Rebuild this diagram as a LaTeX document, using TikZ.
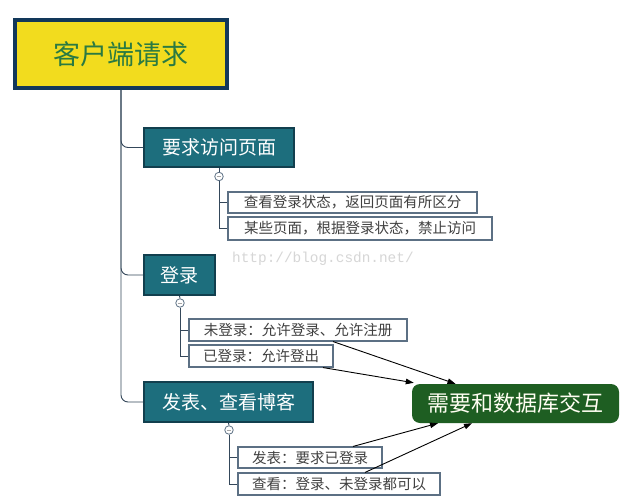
\documentclass[tikz,border=0pt]{standalone}
\usepackage{fontspec}
\newfontfamily\cjk{Noto Sans CJK SC}
\newfontfamily\wmfont{Liberation Mono}
\usetikzlibrary{arrows.meta,calc}
\definecolor{navy}{HTML}{12385A}
\definecolor{yel}{HTML}{F2DC1E}
\definecolor{rootgreen}{HTML}{2A7A42}
\definecolor{tealfill}{HTML}{1D6E7D}
\definecolor{tealedge}{HTML}{123F4E}
\definecolor{dbgreen}{HTML}{1E5E22}
\definecolor{childedge}{HTML}{5C7084}
\definecolor{linec}{HTML}{34475A}
\tikzset{
  rootbox/.style={draw=navy,line width=4pt,fill=yel,text=rootgreen,minimum width=212pt,minimum height=68pt,inner sep=0pt,font=\cjk\fontsize{27}{30}\selectfont},
  mainbox/.style={draw=tealedge,line width=2pt,fill=tealfill,text=white,minimum height=39pt,inner sep=0pt,font=\cjk\fontsize{19}{22}\selectfont},
  dbbox/.style={fill=dbgreen,rounded corners=8pt,text=white!95!yellow,minimum width=207pt,minimum height=39pt,inner sep=0pt,font=\cjk\fontsize{22}{25}\selectfont},
  childbox/.style={draw=childedge,line width=1.1pt,fill=white,text=black!75,minimum height=21pt,inner sep=0pt,font=\cjk\fontsize{14.5}{16}\selectfont},
  toggle/.style={circle,draw=childedge,line width=0.8pt,fill=white,minimum size=8.5pt,inner sep=0pt},
  branch/.style={draw=linec,line width=0.9pt,rounded corners=7pt},
  link/.style={draw=black,line width=0.9pt,-{Triangle[length=8pt,width=5.5pt]}}
}
\begin{document}
\begin{tikzpicture}[x=1pt,y=-1pt]
\useasboundingbox (0,0) rectangle (629,500);
\fill[white] (0,0) rectangle (629,500);
% watermark
\node[anchor=base west,inner sep=0pt,text=black!16,font=\wmfont\fontsize{14.4}{16}\selectfont] (wm) at (232,262) {http://blog.csdn.net/};
% main nodes
\node[rootbox] (root) at (121,54) {客户端请求};
\node[mainbox,minimum width=150pt] (req) at (219,147.5) {要求访问页面};
\node[mainbox,minimum width=71pt,minimum height=40pt] (login) at (179.5,275) {登录};
\node[mainbox,minimum width=169pt,minimum height=40pt] (post) at (228.5,402) {发表、查看博客};
\node[dbbox] (db) at (515.5,403.5) {需要和数据库交互};
% toggles
\node[toggle] (c1) at (219,176.5) {};
\node[toggle] (c2) at (180,303) {};
\node[toggle] (c3) at (229,430) {};
\foreach \c in {c1,c2,c3} \draw[black!35,line width=0.6pt] ([xshift=-2.2pt]\c.center) -- ([xshift=2.2pt]\c.center);
% children
\node[childbox,minimum width=249pt] (a1) at (352.5,202.5) {查看登录状态，返回页面有所区分};
\node[childbox,minimum width=264pt,minimum height=23pt] (a2) at (360,228.5) {某些页面，根据登录状态，禁止访问};
\node[childbox,minimum width=218pt,minimum height=22pt] (b1) at (298,330) {未登录：允许登录、允许注册};
\node[childbox,minimum width=144pt,minimum height=22pt] (b2) at (261,356) {已登录：允许登出};
\node[childbox,minimum width=144pt] (p1) at (310,457.5) {发表：要求已登录};
\node[childbox,minimum width=202pt,minimum height=22pt] (p2) at (339,484) {查看：登录、未登录都可以};
% trunk branches
\draw[branch] (root.south) |- (req.west);
\draw[branch] (root.south) |- (login.west);
\draw[branch] (root.south) |- (post.west);
% sub branches
\draw[linec,line width=0.9pt] (req.south) -- (c1.north);
\draw[linec,line width=0.9pt] (login.south) -- (c2.north);
\draw[linec,line width=0.9pt] (post.south) -- (c3.north);
\draw[branch,rounded corners=0pt] (c1.south) |- (a1.west);
\draw[branch,rounded corners=0pt] (c1.south) |- (a2.west);
\draw[branch,rounded corners=0pt] (c2.south) |- (b1.west);
\draw[branch,rounded corners=0pt] (c2.south) |- (b2.west);
\draw[branch,rounded corners=0pt] (c3.south) |- (p1.west);
\draw[branch,rounded corners=0pt] (c3.south) |- (p2.west);
% links to db
\draw[link] ([xshift=35pt]b1.south) -- ([xshift=-60pt]db.north);
\draw[link] ([xshift=62pt]b2.south) -- ([xshift=2pt,yshift=1pt]db.north west);
\draw[link] ([xshift=43pt]p1.north) -- ([xshift=-77.5pt]db.south);
\draw[link] ([xshift=26pt]p2.north) -- ([xshift=-43.5pt]db.south);
\end{tikzpicture}
\end{document}
